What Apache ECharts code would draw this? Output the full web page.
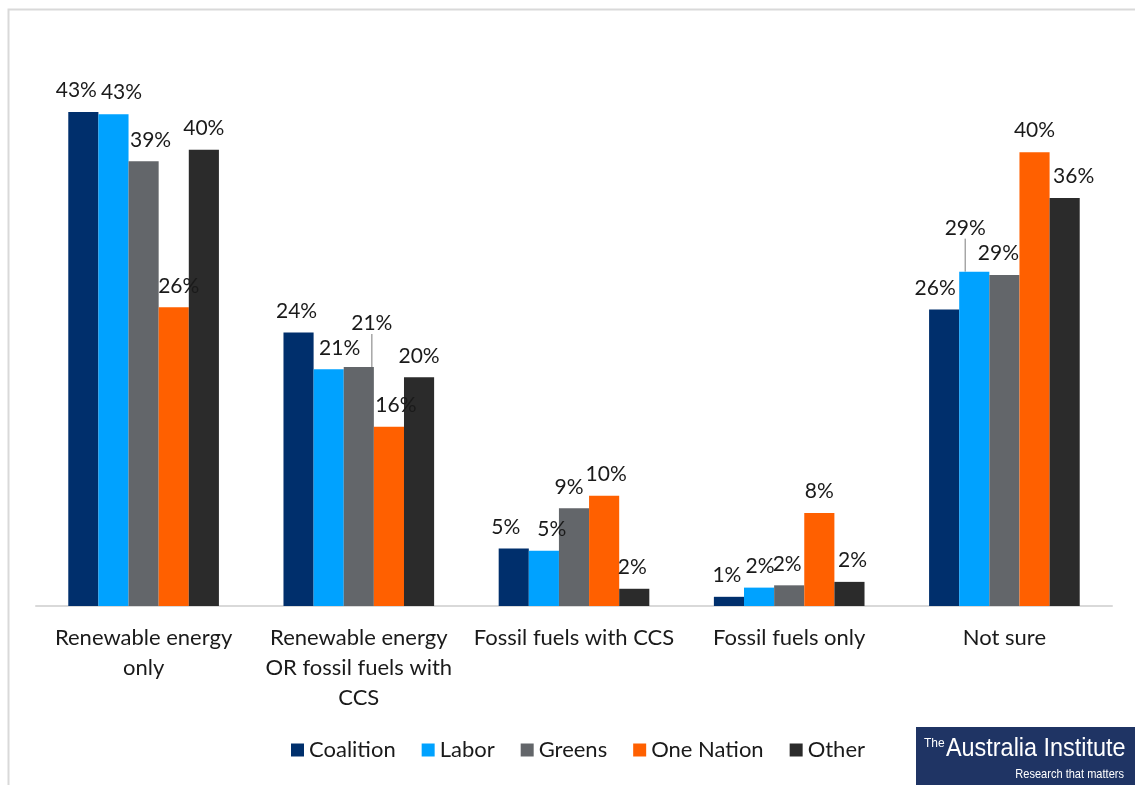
<!DOCTYPE html>
<html>
<head>
<meta charset="utf-8">
<style>
html,body{margin:0;padding:0;background:#fff;}
#chart{width:1135px;height:785px;}
</style>
<script src="https://cdn.jsdelivr.net/npm/echarts@6/dist/echarts.min.js"></script>
</head>
<body>
<div id="chart"></div>
<script>
const categories = ["Renewable energy\nonly", "Renewable energy\nOR fossil fuels with\nCCS", "Fossil fuels with CCS", "Fossil fuels only", "Not sure"];
const seriesNames = ["Coalition", "Labor", "Greens", "One Nation", "Other"];
const coalition = [43.0, 23.8, 5.0, 0.8, 25.8];
const labor = [42.8, 20.6, 4.8, 1.6, 29.1];
const greens = [38.7, 20.8, 8.5, 1.8, 28.8];
const oneNation = [26.0, 15.6, 9.6, 8.1, 39.5];
const other = [39.7, 19.9, 1.5, 2.1, 35.5];

const colors = ["#002f6c", "#00a2ff", "#63666a", "#ff6000", "#2b2b2b"];
const allData = [coalition, labor, greens, oneNation, other];

// label nudges (dx, dy) per series/category, mimicking the reference's manual placement
const nudges = {
  "0-0": [-7, 0], "1-0": [8, 0], "2-0": [7, 0], "3-0": [5, 0], "4-0": [0, 0],
  "0-1": [-2, 0], "1-1": [11, 0], "2-1": [13, -22], "3-1": [7, 0],
  "0-2": [-8, 0], "1-2": [8, 0], "2-2": [-5, 0], "3-2": [2, 0], "4-2": [-2, 0],
  "0-3": [-2, 0], "1-3": [1, 0], "2-3": [-2, 0], "4-3": [3, 0],
  "0-4": [-9, 0], "1-4": [-9, -22], "2-4": [-6, 0], "4-4": [9, 0]
};
const withLine = {"2-1": true, "1-4": true};

const chart = echarts.init(document.getElementById('chart'));
const series = seriesNames.map((name, si) => ({
  name: name,
  type: 'bar',
  barGap: '0%',
  barCategoryGap: '30%',
  itemStyle: {color: colors[si]},
  data: allData[si].map((v, ci) => {
    const item = {value: v};
    if (withLine[si + '-' + ci]) {
      item.labelLine = {show: true, lineStyle: {color: '#a6a6a6', width: 1.5}};
    }
    return item;
  }),
  label: {
    show: true,
    position: 'top',
    distance: 11,
    color: '#1a1a1a',
    fontSize: 21,
    fontFamily: 'Lato',
    formatter: p => Math.round(p.value) + '%'
  },
  labelLine: {show: false},
  labelLayout: function (params) {
    const n = nudges[si + '-' + params.dataIndex];
    if (!n) return {};
    return {dx: n[0], dy: n[1]};
  }
}));

chart.setOption({
  backgroundColor: '#fff',
  animation: false,
  grid: {left: 36, right: 23, top: 31.5, bottom: 179, containLabel: false},
  xAxis: {
    type: 'category',
    data: categories,
    axisLine: {lineStyle: {color: '#d9d9d9', width: 2}},
    axisTick: {show: false},
    axisLabel: {color: '#1a1a1a', fontSize: 22, fontFamily: 'Lato', lineHeight: 30, margin: 17, interval: 0}
  },
  yAxis: {
    type: 'value', min: 0, max: 50,
    show: false,
    splitLine: {show: false}
  },
  legend: {
    bottom: 19,
    left: 286,
    itemWidth: 13,
    itemHeight: 13,
    itemGap: 26,
    icon: 'rect',
    textStyle: {color: '#1a1a1a', fontSize: 22, fontFamily: 'Lato'},
    data: seriesNames
  },
  graphic: [
    {type: 'rect', left: 6, top: 7, shape: {width: 1200, height: 900}, style: {fill: 'none', stroke: '#d9d9d9', lineWidth: 2}, z: -1},
    {type: 'rect', left: 916, top: 727, shape: {width: 219, height: 58}, style: {fill: '#1f3464'}},
    {type: 'text', x: 924, y: 738, style: {text: 'The', fill: '#fff', font: '12px "Liberation Sans", sans-serif'}},
    {type: 'text', x: 946, y: 736, scaleX: 0.9, style: {text: 'Australia Institute', fill: '#fff', font: '26px "Liberation Sans", sans-serif'}},
    {type: 'text', x: 1124, y: 768, scaleX: 0.85, style: {text: 'Research that matters', fill: '#fff', align: 'right', font: '13px "Liberation Sans", sans-serif'}}
  ],
  series: series
});
</script>
</body>
</html>
